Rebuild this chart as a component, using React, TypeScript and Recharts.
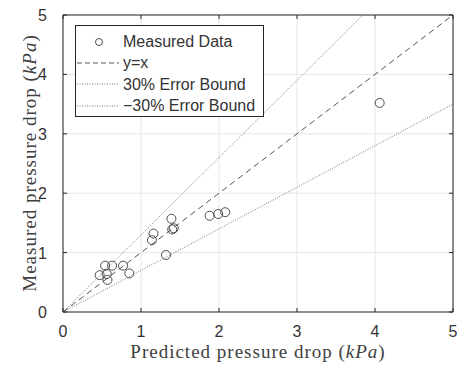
import React from 'react';
import { ScatterChart, Scatter, XAxis, YAxis, CartesianGrid, ReferenceLine, Label } from 'recharts';

// measured vs predicted pressure drop (kPa)
const predicted = [0.54, 0.63, 0.77, 0.47, 0.56, 0.85, 0.57, 1.16, 1.14, 1.39, 1.40, 1.42, 1.32, 1.88, 1.99, 2.08, 4.06];
const measured = [0.78, 0.78, 0.78, 0.62, 0.64, 0.65, 0.54, 1.32, 1.21, 1.57, 1.39, 1.41, 0.96, 1.62, 1.65, 1.68, 3.52];

const ticks = [0, 1, 2, 3, 4, 5];

// y = x, +30% and -30% bounds
const identityLine = [{ x: 0, y: 0 }, { x: 5, y: 5 }];
const upperBound = [{ x: 0, y: 0 }, { x: 5, y: 6.5 }];
const lowerBound = [{ x: 0, y: 0 }, { x: 5, y: 3.5 }];

const legendItems = ['Measured Data', 'y=x', '30% Error Bound', '\u221230% Error Bound'];

const points = predicted.map((x, i) => ({ x, y: measured[i] }));

const W = 457;
const H = 367;
const LEFT = 63;
const RIGHT = 4;
const TOP = 15;
const BOTTOM = 55;
const plotRight = W - RIGHT;

const axisColor = '#262626';
const textColor = '#333';
const sans = '"Liberation Sans", Arial, sans-serif';
const serif = '"Liberation Serif", "DejaVu Serif", serif';

const XTick = (props: any) => {
  const { x, y, payload } = props;
  return (
    <g>
      <line x1={x} x2={x} y1={y} y2={y - 4} stroke={axisColor} />
      <line x1={x} x2={x} y1={TOP} y2={TOP + 4} stroke={axisColor} />
      <text x={x} y={y + 25} textAnchor="middle" fontSize={16} fontFamily={sans} fill={textColor}>
        {payload.value}
      </text>
    </g>
  );
};

const YTick = (props: any) => {
  const { x, y, payload } = props;
  return (
    <g>
      <line x1={x} x2={x + 4} y1={y} y2={y} stroke={axisColor} />
      <line x1={plotRight} x2={plotRight - 4} y1={y} y2={y} stroke={axisColor} />
      <text x={x - 16} y={y + 6} textAnchor="end" fontSize={16} fontFamily={sans} fill={textColor}>
        {payload.value}
      </text>
    </g>
  );
};

const labelStyle = { fontSize: 19, letterSpacing: 1, fontFamily: serif, fill: '#404040' };

const XLabel = () => (
  <text x={(LEFT + plotRight) / 2} y={358} textAnchor="middle" {...labelStyle}>
    Predicted pressure drop (<tspan fontStyle="italic">kPa</tspan>)
  </text>
);

const YLabel = () => {
  const cx = 36;
  const cy = 163;
  return (
    <text x={cx} y={cy} transform={`rotate(-90 ${cx} ${cy})`} textAnchor="middle" {...labelStyle}>
      Measured pressure drop (<tspan fontStyle="italic">kPa</tspan>)
    </text>
  );
};

const Circle = (props: any) => {
  const { cx, cy } = props;
  if (cx == null || cy == null) return null;
  return <circle cx={cx} cy={cy} r={4.5} fill="none" stroke="#3a3a3a" strokeWidth={0.9} />;
};

const LegendSample = ({ index }: { index: number }) => {
  if (index === 0) {
    return (
      <svg width={44} height={12}>
        <circle cx={23} cy={6} r={3.5} fill="none" stroke="#3a3a3a" strokeWidth={0.9} />
      </svg>
    );
  }
  const dash = index === 1 ? '5 3' : '1 1.5';
  return (
    <svg width={44} height={12}>
      <line x1={1} x2={43} y1={6} y2={6} stroke={index === 1 ? '#555' : '#777'} strokeDasharray={dash} />
    </svg>
  );
};

export default function App() {
  return (
    <div style={{ position: 'absolute', left: 0, top: 0, width: W, height: H, background: '#fff' }}>
      <ScatterChart width={W} height={H} margin={{ top: TOP, right: RIGHT, bottom: 0, left: 0 }}>
        <CartesianGrid stroke="#e6e6e6" strokeWidth={1} />
        <XAxis
          type="number"
          dataKey="x"
          domain={[0, 5]}
          ticks={ticks}
          allowDataOverflow
          height={BOTTOM}
          tickSize={0}
          tickMargin={0}
          tickLine={false}
          tick={<XTick />}
          stroke={axisColor}
          interval={0}
        >
          <Label content={<XLabel />} />
        </XAxis>
        <YAxis
          type="number"
          dataKey="y"
          domain={[0, 5]}
          ticks={ticks}
          allowDataOverflow
          width={LEFT}
          tickSize={0}
          tickMargin={0}
          tickLine={false}
          tick={<YTick />}
          stroke={axisColor}
          interval={0}
        >
          <Label content={<YLabel />} />
        </YAxis>
        <ReferenceLine segment={[{ x: 0, y: 5 }, { x: 5, y: 5 }]} stroke={axisColor} ifOverflow="visible" />
        <ReferenceLine segment={[{ x: 5, y: 0 }, { x: 5, y: 5 }]} stroke={axisColor} ifOverflow="visible" />
        <ReferenceLine segment={upperBound} stroke="#777" strokeDasharray="1 1.5" ifOverflow="hidden" />
        <ReferenceLine segment={lowerBound} stroke="#777" strokeDasharray="1 1.5" ifOverflow="hidden" />
        <ReferenceLine segment={identityLine} stroke="#555" strokeDasharray="6 4" ifOverflow="hidden" />
        <Scatter data={points} shape={<Circle />} isAnimationActive={false} />
      </ScatterChart>
      <div
        style={{
          position: 'absolute',
          left: 75,
          top: 25,
          width: 189,
          height: 92,
          border: `1px solid ${axisColor}`,
          background: '#fff',
          fontFamily: sans,
          fontSize: 16,
          color: textColor,
          paddingTop: 5,
          boxSizing: 'border-box',
        }}
      >
        {legendItems.map((name, i) => (
          <div key={name} style={{ display: 'flex', alignItems: 'center', height: 21.3, lineHeight: '21px' }}>
            <div style={{ width: 47, display: 'flex', alignItems: 'center' }}>
              <LegendSample index={i} />
            </div>
            <span style={{ whiteSpace: 'nowrap' }}>{name}</span>
          </div>
        ))}
      </div>
    </div>
  );
}
